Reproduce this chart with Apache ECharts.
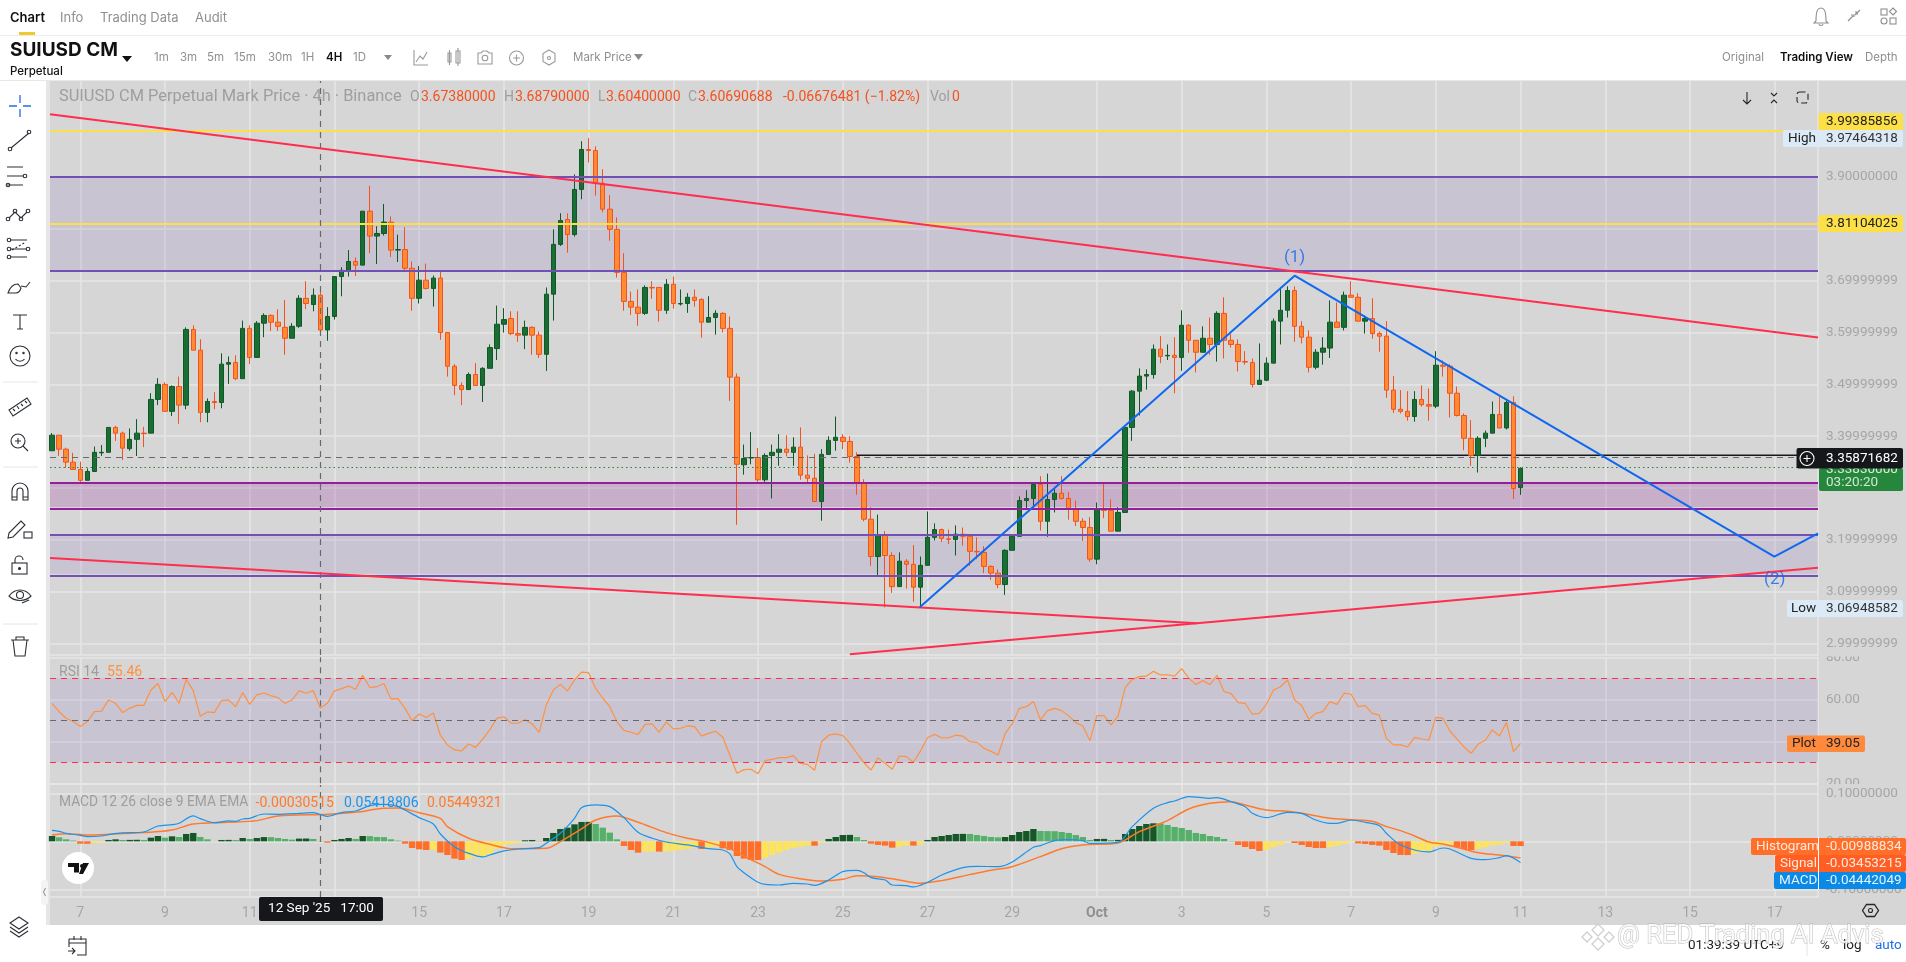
<!DOCTYPE html>
<html><head><meta charset="utf-8"><title>SUIUSD CM</title>
<script src="https://cdn.jsdelivr.net/npm/echarts@6/dist/echarts.min.js"></script>
<style>
html,body{margin:0;padding:0;background:#fff;width:1906px;height:962px;overflow:hidden}
#pane{position:absolute;left:50px;top:81px;width:1856px;height:844px;background:#d6d6d6}
#strip{position:absolute;left:46px;top:81px;width:4px;height:844px;background:#e6e6e6}
#chart{position:absolute;left:0;top:0;width:1906px;height:962px}
#icons{position:absolute;left:0;top:0;pointer-events:none}
</style></head><body>
<div id="strip"></div><div id="pane"></div>
<div id="chart"></div>
<svg id="icons" width="1906" height="962" fill="none" stroke="#2b2f36" stroke-width="1.1">
 <line x1="0" y1="35.5" x2="1906" y2="35.5" stroke="#ececec"/>
 <line x1="0" y1="80.5" x2="1906" y2="80.5" stroke="#e8e8e8"/>
 <rect x="19" y="32" width="16" height="3" fill="#f0c92e" stroke="none"/>
 <path d="M122 56h10l-5 6z" fill="#111" stroke="none"/>
 <path d="M384 55h8l-4 5z" fill="#8a8a8a" stroke="none"/>
 <path d="M634 54h9l-4.500 6z" fill="#8a8a8a" stroke="none"/>
 <g stroke="#9a9a9a">
  <path d="M414 50v15h14M416 62l4-6 3 3 4-7"/>
  <path d="M448 53h3v9h-3zM456 51h4v12h-4zM449.500 50v15M458 48v18"/>
  <path d="M478 53h3l2-2h4l2 2h3v11h-14z"/><circle cx="485" cy="58" r="2.800"/>
  <circle cx="516.500" cy="58" r="7"/><path d="M513 58h7M516.500 54.500v7"/>
  <path d="M549 50l6 3.500v8l-6 3.500-6-3.500v-8z"/><circle cx="549" cy="58" r="1.500"/>
 </g>
 <g stroke="#8f8f8f">
  <path d="M1816 21c0-11 2-13 5-13s5 2 5 13l2 2h-14zM1819 24c0 2 4 2 4 0"/>
  <path d="M1848 21l5-5M1860 10l-5 5M1851 15h3v2M1856 11v3h2"/>
  <rect x="1881" y="9" width="6" height="6"/><path d="M1893 8l3.500 3.500-3.500 3.500-3.500-3.500z"/><rect x="1890" y="18" width="6" height="6"/><circle cx="1884" cy="21" r="3"/>
 </g>
 <g stroke="#24272c">
  <path d="M1747 92v12M1743 100l4 4 4-4"/>
  <path d="M1771 93l3 3 3-3M1771 103l3-3 3 3"/>
  <rect x="1797" y="92" width="11" height="11" rx="2.500" stroke-dasharray="6 3"/>
 </g>
 <g stroke="#1f6fe5" stroke-width="1.300"><path d="M20 95v8M20 109v8M9 106h8M23 106h8"/></g>
 <g>
  <path d="M11 148l18-15"/><circle cx="10" cy="149" r="1.800"/><circle cx="29" cy="132" r="1.800"/>
  <path d="M7 167h16M7 176h16M7 185h16"/><circle cx="25" cy="176" r="1.800"/><circle cx="8" cy="185" r="1.800"/>
  <path d="M9 218l6-6 6 6 6-6"/><circle cx="8" cy="219" r="1.800"/><circle cx="15" cy="211" r="1.800"/><circle cx="21" cy="219" r="1.800"/><circle cx="28" cy="211" r="1.800"/>
  <path d="M10 240h17M10 249h17M10 257h17"/><path d="M12 250l14-8" stroke-dasharray="2 2"/><circle cx="9" cy="240" r="1.800"/><circle cx="9" cy="249" r="1.800"/><circle cx="28" cy="249" r="1.800"/><circle cx="9" cy="257" r="1.800"/>
  <path d="M8 293c2-6 6-9 10-9l3 4c-1 3-3 5-5 5zM21 286l5 1 4-5"/>
  <path d="M13 315h14M20 315v14M17 329h6"/>
  <circle cx="20" cy="356" r="10"/><path d="M15.500 359c2 3 7 3 9 0"/><circle cx="16.500" cy="353" r=".7"/><circle cx="23.500" cy="353" r=".7"/>
  <path d="M9 410l18-12 4 6-18 12zM13 409l2 2M17 406l2 3M21 404l2 2M25 401l2 2"/>
  <circle cx="18" cy="441" r="7"/><path d="M15 441h6M18 438v6M23 446l5 5"/>
  <path d="M12 500v-9a8 8 0 0 1 16 0v9h-5v-9a3 3 0 0 0-6 0v9zM12 497h5M23 497h5"/>
  <path d="M9 533l12-12 4 4-12 12-5 1z"/><rect x="24" y="532" width="8" height="6"/>
  <rect x="12" y="563" width="15" height="11"/><path d="M15 563v-3a4 4 0 0 1 8 0"/><circle cx="19.500" cy="568.500" r="1" fill="#2b2f36"/>
  <path d="M9 596c6-8 16-8 22 0-6 6-16 6-22 0z"/><circle cx="20" cy="595" r="3.500"/><path d="M22 603l7-3"/>
  <path d="M11 640h18M16 640v-3h8v3M13 640l2 16h10l2-16"/>
  <path d="M19 917l9 6-9 6-9-6zM10 927l9 6 9-6M10 931l9 6 9-6"/>
  <path d="M69 939h17v16h-9M69 939v8M69 943h17M74 936v4M81 936v4M68 951h7M72 948l3 3-3 3"/>
 </g>
 <g stroke="#e6e6e6" stroke-width="1"><path d="M3 382h35M3 467h35M3 624h35"/></g>
 <rect x="41" y="880" width="7" height="25" rx="3" fill="#f4f4f4" stroke="none"/>
 <path d="M45.500 888l-2 4 2 4" stroke="#999"/>
 <circle cx="78" cy="868" r="16" fill="#fff" stroke="none"/>
 <path d="M68 863h11v9.500h-5V867h-6zM83 863h6l-6 11h-4z" fill="#111" stroke="none"/><circle cx="82" cy="866" r="2" fill="#111" stroke="none"/>
 <g fill="#fff" stroke="#cfcfcf" stroke-width="1.300"><path d="M1598 924l6 6-6 6-6-6zM1587 932l5 5-5 5-5-5zM1609 932l5 5-5 5-5-5zM1598 938l6 6-6 6-6-6z"/></g>
 <line x1="1807" y1="935" x2="1807" y2="956" stroke="#e8e8e8"/>
 <circle cx="1807" cy="458.500" r="7" stroke="#fff"/><path d="M1803.500 458.500h7M1807 455v7" stroke="#fff"/>
 <path d="M1866.500 904.500l8 0 4 6-4 6-8 0-4-6z" stroke="#24272c" stroke-width="1.300"/><circle cx="1870.500" cy="910.500" r="2" stroke="#24272c"/>
</svg>
<script>
// ----- values -----
const firstCandle = -4; // candle index counted in 4h steps from 7 Sep 00:00
// open, close, low, high
const candles = [
[3.372,3.402,3.372,3.406],[3.402,3.375,3.362,3.402],[3.375,3.350,3.339,3.378],[3.350,3.336,3.336,3.368],
[3.336,3.315,3.312,3.351],[3.315,3.332,3.315,3.338],[3.332,3.369,3.332,3.380],[3.368,3.369,3.362,3.383],[3.369,3.417,3.369,3.417],
[3.417,3.406,3.391,3.420],[3.406,3.377,3.354,3.409],[3.376,3.394,3.372,3.415],[3.394,3.406,3.362,3.433],[3.406,3.405,3.379,3.418],
[3.406,3.471,3.406,3.483],[3.471,3.500,3.460,3.512],[3.500,3.448,3.448,3.504],[3.448,3.496,3.439,3.498],[3.496,3.460,3.424,3.515],
[3.460,3.606,3.452,3.610],[3.606,3.566,3.566,3.614],[3.566,3.446,3.427,3.587],[3.446,3.467,3.427,3.473],[3.467,3.465,3.452,3.485],
[3.465,3.539,3.454,3.560],[3.539,3.542,3.501,3.554],[3.542,3.511,3.508,3.556],[3.511,3.608,3.511,3.623],[3.608,3.552,3.539,3.614],
[3.552,3.618,3.552,3.622],[3.618,3.633,3.591,3.637],[3.633,3.620,3.603,3.635],[3.620,3.612,3.603,3.645],[3.610,3.589,3.557,3.663],
[3.589,3.612,3.589,3.618],[3.612,3.666,3.609,3.672],[3.666,3.656,3.645,3.699],[3.654,3.672,3.641,3.685],[3.672,3.605,3.602,3.687],
[3.605,3.631,3.584,3.649],[3.631,3.708,3.625,3.708],[3.708,3.720,3.670,3.726],[3.720,3.737,3.708,3.759],[3.737,3.730,3.709,3.745],
[3.730,3.834,3.730,3.834],[3.834,3.786,3.753,3.883],[3.786,3.791,3.732,3.805],[3.791,3.813,3.787,3.848],[3.813,3.759,3.746,3.824],
[3.759,3.760,3.736,3.789],[3.760,3.724,3.720,3.803],[3.724,3.666,3.642,3.737],[3.666,3.701,3.656,3.728],[3.701,3.685,3.683,3.733],
[3.685,3.705,3.650,3.710],[3.705,3.600,3.586,3.720],[3.600,3.535,3.515,3.600],[3.535,3.498,3.479,3.539],[3.498,3.490,3.460,3.504],
[3.490,3.519,3.490,3.523],[3.519,3.498,3.498,3.541],[3.498,3.531,3.466,3.533],[3.531,3.571,3.531,3.577],[3.569,3.616,3.547,3.652],
[3.616,3.625,3.600,3.647],[3.627,3.598,3.595,3.641],[3.598,3.595,3.582,3.641],[3.595,3.610,3.568,3.623],[3.610,3.595,3.557,3.612],
[3.595,3.558,3.551,3.602],[3.558,3.674,3.526,3.687],[3.674,3.770,3.623,3.799],[3.770,3.816,3.767,3.830],[3.818,3.789,3.754,3.830],
[3.789,3.876,3.785,3.905],[3.876,3.953,3.857,3.969],[3.953,3.951,3.928,3.975],[3.951,3.888,3.864,3.959],[3.888,3.838,3.832,3.915],
[3.838,3.799,3.777,3.865],[3.799,3.716,3.706,3.822],[3.716,3.660,3.642,3.753],[3.660,3.649,3.634,3.679],[3.649,3.637,3.613,3.683],
[3.637,3.687,3.634,3.691],[3.687,3.686,3.665,3.699],[3.687,3.643,3.621,3.687],[3.643,3.693,3.636,3.703],[3.693,3.656,3.646,3.708],
[3.655,3.656,3.652,3.683],[3.656,3.668,3.638,3.676],[3.668,3.662,3.650,3.683],[3.664,3.620,3.590,3.666],[3.620,3.629,3.620,3.670],
[3.629,3.637,3.596,3.643],[3.637,3.608,3.600,3.639],[3.608,3.514,3.468,3.631],[3.514,3.346,3.229,3.521],
[3.345,3.357,3.326,3.384],[3.358,3.359,3.346,3.408],[3.359,3.316,3.312,3.377],[3.316,3.363,3.312,3.367],[3.363,3.369,3.280,3.384],
[3.369,3.375,3.343,3.404],[3.375,3.369,3.361,3.402],[3.369,3.379,3.343,3.398],[3.379,3.325,3.316,3.417],[3.325,3.319,3.308,3.363],
[3.319,3.274,3.274,3.366],[3.274,3.365,3.237,3.375],[3.365,3.392,3.365,3.400],[3.392,3.398,3.372,3.438],[3.398,3.390,3.375,3.404],
[3.390,3.361,3.349,3.400],[3.361,3.309,3.287,3.369],[3.309,3.240,3.236,3.317],[3.240,3.168,3.150,3.263],[3.168,3.209,3.131,3.249],
[3.209,3.170,3.070,3.217],[3.170,3.110,3.098,3.176],[3.110,3.159,3.110,3.176],[3.159,3.153,3.106,3.163],[3.153,3.109,3.081,3.190],
[3.109,3.151,3.071,3.168],[3.151,3.205,3.151,3.255],[3.205,3.220,3.199,3.232],[3.220,3.203,3.196,3.222],[3.202,3.201,3.192,3.220],
[3.201,3.211,3.170,3.228],[3.211,3.207,3.189,3.224],[3.207,3.178,3.150,3.207],[3.178,3.177,3.163,3.205],[3.176,3.149,3.136,3.188],
[3.149,3.136,3.123,3.151],[3.136,3.114,3.107,3.143],[3.114,3.180,3.094,3.182],[3.180,3.207,3.180,3.209],[3.207,3.276,3.207,3.284],
[3.276,3.280,3.258,3.296],[3.280,3.307,3.261,3.311],[3.307,3.236,3.218,3.323],[3.236,3.278,3.206,3.328],[3.278,3.290,3.253,3.301],
[3.290,3.280,3.278,3.323],[3.280,3.259,3.239,3.292],[3.259,3.236,3.227,3.276],[3.236,3.224,3.198,3.242],[3.224,3.163,3.158,3.244],
[3.163,3.259,3.153,3.272],[3.258,3.257,3.242,3.309],[3.257,3.217,3.217,3.278],[3.217,3.253,3.217,3.263],[3.253,3.417,3.253,3.417],
[3.417,3.487,3.391,3.489],[3.487,3.516,3.440,3.531],[3.516,3.519,3.490,3.529],[3.519,3.568,3.511,3.577],[3.568,3.554,3.541,3.593],
[3.555,3.556,3.547,3.577],[3.556,3.552,3.483,3.591],[3.552,3.614,3.526,3.643],[3.614,3.585,3.561,3.616],[3.585,3.562,3.523,3.585],
[3.562,3.589,3.562,3.612],[3.589,3.577,3.557,3.629],[3.577,3.637,3.544,3.641],[3.637,3.585,3.550,3.668],[3.585,3.577,3.571,3.597],
[3.577,3.544,3.525,3.587],[3.544,3.543,3.538,3.564],[3.542,3.500,3.494,3.550],[3.500,3.508,3.500,3.579],[3.508,3.541,3.506,3.552],
[3.541,3.622,3.541,3.627],[3.622,3.643,3.577,3.687],[3.643,3.681,3.629,3.689],[3.681,3.612,3.582,3.689],[3.612,3.591,3.579,3.622],
[3.591,3.533,3.523,3.604],[3.533,3.562,3.529,3.568],[3.562,3.570,3.538,3.591],[3.570,3.620,3.551,3.662],[3.620,3.610,3.610,3.658],
[3.610,3.672,3.604,3.679],[3.672,3.668,3.668,3.699],[3.668,3.622,3.622,3.676],[3.622,3.627,3.598,3.633],[3.627,3.598,3.588,3.666],
[3.598,3.593,3.563,3.602],[3.593,3.489,3.474,3.622],[3.489,3.452,3.445,3.516],[3.452,3.448,3.444,3.489],[3.448,3.438,3.430,3.487],
[3.438,3.471,3.428,3.487],[3.471,3.461,3.457,3.498],[3.461,3.458,3.430,3.492],[3.458,3.537,3.454,3.564],[3.537,3.535,3.515,3.546],
[3.535,3.483,3.436,3.539],[3.483,3.440,3.438,3.496],[3.440,3.396,3.373,3.444],[3.396,3.363,3.343,3.431],[3.363,3.396,3.330,3.400],
[3.396,3.406,3.379,3.411],[3.406,3.442,3.406,3.467],[3.442,3.416,3.415,3.477],[3.416,3.465,3.413,3.469],[3.465,3.299,3.279,3.477],
[3.301,3.338,3.287,3.340]];

const rsiValues = [
58.1,54.1,51.0,49.4,47.0,49.4,54.1,54.4,59.7,58.1,53.7,55.7,57.1,57.1,64.4,67.5,58.9,63.3,58.1,69.5,
64.1,51.9,54.0,53.7,59.4,59.7,56.5,63.2,57.6,62.1,63.0,61.7,60.8,58.1,59.7,64.0,62.9,64.1,55.9,58.1,
64.0,65.1,66.3,64.8,71.4,65.6,66.0,67.5,60.2,60.3,55.7,49.8,53.0,51.3,53.5,42.9,38.3,35.9,35.4,38.7,
37.1,41.0,45.4,51.0,51.7,48.7,48.6,50.3,48.3,44.3,57.3,64.4,67.1,64.0,69.2,72.9,72.7,65.2,60.5,56.5,
49.4,45.2,44.3,43.3,48.1,48.3,44.3,49.2,45.9,46.2,47.3,47.0,42.5,43.8,44.8,41.9,33.5,24.8,
26.5,26.7,24.6,30.8,31.4,32.2,32.2,33.2,29.5,29.0,26.2,39.8,42.9,43.5,42.7,39.0,34.3,29.8,26.3,32.1,
29.5,26.7,33.0,32.7,30.0,35.4,41.7,43.3,41.7,41.7,42.9,42.5,39.8,39.5,36.7,35.2,33.5,43.8,48.3,55.7,
56.5,59.0,50.2,54.6,55.7,54.6,52.1,48.9,47.3,40.3,52.2,52.2,47.8,52.1,65.6,69.5,70.8,71.0,73.3,71.6,
71.7,71.0,74.6,70.2,67.0,68.9,67.0,71.4,63.7,62.7,58.4,58.1,52.9,53.3,57.6,64.4,66.0,69.2,59.7,57.0,
50.5,53.3,54.1,58.9,57.6,62.9,62.4,56.5,57.0,53.3,52.5,41.4,38.3,38.3,
37.3,41.9,41.1,40.5,51.4,51.0,44.9,41.0,37.3,34.3,38.7,40.5,45.4,42.5,49.0,35.1,39.05];

const histValues = [
.0111,.0083,.0042,.0014,-.0049,-.0052,-.0035,-.0021,.0028,.0042,.0028,.003,.0032,.0028,.0076,.0111,.0076,.0104,.009,.0153,
.0174,.009,.0042,.0002,.0028,.003,.0026,.0069,.0049,.0069,.0088,.0086,.0069,.0049,.0035,.0056,.0058,.0049,-.0007,-.0028,
.0028,.0049,.0069,.0049,.0111,.0109,.009,.0088,.0042,.0014,-.0049,-.0139,-.0167,-.0181,-.0179,-.0236,-.0285,-.0361,-.0389,-.0361,
-.0319,-.0306,-.0264,-.0153,-.0076,-.0056,-.0028,.0021,.0028,-.0007,.0069,.0174,.0257,.0285,.0354,.0403,.0405,.0361,.0285,.0181,
.0042,-.0097,-.0181,-.0236,-.0215,-.0213,-.0215,-.0208,-.0194,-.0181,-.016,-.0125,-.016,-.0125,-.0111,-.0146,-.0181,-.0306,
-.0361,-.0389,-.0391,-.034,-.0285,-.0236,-.0181,-.0139,-.0111,-.009,-.0092,-.0028,.0049,.009,.0132,.0134,.009,.0028,-.0049,-.0076,
-.009,-.0132,-.0111,-.0083,-.009,-.0069,.0028,.009,.0111,.0132,.0153,.0155,.0153,.0132,.0111,.009,.0083,.009,.0132,.0194,
.0215,.0257,.0215,.0213,.0211,.0194,.0174,.0132,.009,.0028,.0049,.0051,.0028,.003,.0153,.0257,.0319,.0361,.0375,.0373,
.034,.0299,.0278,.0236,.0174,.0153,.0111,.009,.0049,.0007,-.0076,-.0118,-.016,-.0201,-.0181,-.0118,-.0076,-.0014,-.0035,-.0076,
-.0118,-.0139,-.0141,-.0118,-.009,-.0056,-.0014,-.0042,-.0056,-.0076,-.009,-.0181,-.0243,-.0285,-.0287,-.0257,-.0222,-.0201,-.0111,-.0083,
-.0081,-.0125,-.016,-.0181,-.016,-.0125,-.0083,-.0069,-.0028,-.0097,-.0099];

// [candle index, value]
const macdLine = [[-4,.0229],[-3,.0208],[-2,.0167],[0,.0125],[1,.0097],[3,.0111],[4,.0139],[6,.0174],[9,.0194],[11,.0319],[13,.0347],[14,.0375],[16,.0528],[17,.0472],[19,.0389],[21,.0424],[22,.0417],[23,.0465],[24,.0479],[26,.0569],[28,.0563],[31,.0583],[33,.0597],[35,.0521],[37,.0597],[39,.0632],[41,.0743],[43,.0771],[45,.0722],[48,.0493],[50,.0361],[51,.0153],[53,-.0111],[55,-.025],[57,-.0326],[58,-.0285],[60,-.0201],[62,-.016],[65,-.0132],[66,-.0042],[68,.0167],[70,.0479],[71,.0701],[73,.0757],[75,.0722],[77,.0493],[79,.0188],[81,.0063],[83,-.0014],[86,-.0076],[89,-.0153],[91,-.0181],[92,-.0264],[93,-.0528],[94,-.0653],[96,-.0854],[97,-.0896],[99,-.091],[101,-.0875],[103,-.0889],[104,-.0917],[106,-.0806],[108,-.0632],[110,-.0604],[111,-.0653],[112,-.0757],[114,-.0806],[115,-.091],[117,-.0924],[118,-.0951],[120,-.0854],[122,-.0701],[125,-.0549],[127,-.0521],[130,-.0528],[132,-.0431],[135,-.0125],[136,-.009],[138,.0014],[140,.0035],[142,.0014],[143,-.0042],[147,-.0021],[149,.0306],[152,.0688],[154,.0806],[155,.084],[157,.0931],[160,.0896],[161,.091],[163,.0826],[165,.0722],[166,.0583],[168,.0493],[171,.0604],[173,.0583],[175,.0444],[177,.0375],[178,.0375],[180,.0444],[182,.0396],[184,.0326],[185,.0167],[187,-.0076],[191,-.0222],[193,-.0139],[194,-.016],[197,-.0354],[199,-.0382],[201,-.034],[202,-.0299],[204,-.0444]];
const signalLine = [[-4,.0132],[-2,.016],[1,.0132],[4,.0146],[9,.0181],[13,.0236],[16,.0361],[21,.0396],[25,.0431],[28,.0528],[35,.0563],[39,.0604],[43,.0688],[45,.0694],[48,.0597],[51,.0479],[52,.0306],[55,.0063],[58,-.0063],[61,-.0153],[66,-.0146],[68,-.0007],[71,.0257],[73,.0444],[76,.0528],[79,.0396],[83,.0181],[86,.0063],[88,.0014],[91,-.0111],[93,-.0215],[94,-.0306],[97,-.0528],[99,-.0688],[102,-.0778],[105,-.0826],[108,-.0792],[110,-.0715],[113,-.0736],[116,-.0806],[119,-.0875],[122,-.0819],[126,-.0694],[129,-.0604],[132,-.0528],[136,-.0319],[139,-.0153],[142,-.0076],[147,-.0035],[150,.0201],[154,.0431],[157,.0674],[160,.0792],[163,.0826],[165,.0757],[168,.0653],[171,.0625],[173,.0583],[177,.0479],[180,.0451],[183,.0417],[185,.0306],[187,.0222],[189,.0111],[191,-.0014],[193,-.0056],[195,-.0125],[198,-.0236],[201,-.0285],[204,-.0345]];

const xTicks = [0,12,24,36,48,60,72,84,96,108,120,132,144,156,168,180,192,204,216,228,240];
const xTickLabels = ['7','9','11','13','15','17','19','21','23','25','27','29','Oct','3','5','7','9','11','13','15','17'];
const priceTicks = [3.9,3.8,3.7,3.6,3.5,3.4,3.3,3.2,3.1,3.0];
const priceTickLabels = ['3.90000000','3.80000000','3.69999999','3.59999999','3.49999999','3.39999999','3.29999999','3.19999999','3.09999999','2.99999999'];
const rsiTicks = [20,40,60,80];
const macdTicks = [-0.1,0,0.1];
const macdTickLabels = ['-0.10000000','0.00000000','0.10000000'];

const yellowLevels = [3.99385856,3.81104025];
const purpleZones = [[3.9,3.717],[3.2115,3.135]];
const magentaZone = [3.3104,3.2635];
const crossPrice = 3.35871682, crossIndex = 34, lastPrice = 3.3383;
const blackLine = [[110,3.3633],[246.13,3.3633]];
const redLines = [
 [[-4.29,4.0209],[246.13,3.5905]],
 [[-4.29,3.1652],[158.2,3.0392]],
 [[109,2.9795],[246.13,3.1465]]];
const waveLine = [[118.9,3.0701],[172,3.7096],[239.95,3.1677],[246.13,3.2128]];
const wavePoints = [[172,3.744],[240,3.1225]];
const waveLabels = ['(1)','(2)'];

// ----- chart -----
const GRID='#e6e6e6', LABEL='#a6a6a6', PF='Roboto, sans-serif', HF='Inter, sans-serif';
const xMin=-4.29, xMax=246.13, L=50, W=1768;
const grids=[{left:L,width:W,top:81,height:574},{left:L,width:W,top:657.3,height:126},{left:L,width:W,top:785,height:112}]
  .map(g=>Object.assign(g,{containLabel:false,outerBoundsMode:'none'}));
const xAxis=[0,1,2].map(k=>({
  type:'value',gridIndex:k,min:xMin,max:xMax,position:'bottom',
  axisLine:{show:true,onZero:false,lineStyle:{color:GRID,width:1.5}},
  axisTick:{show:false,customValues:xTicks},
  splitLine:{show:true,lineStyle:{color:GRID,width:1.5}},
  axisLabel:{show:k===2,customValues:xTicks,margin:9,color:LABEL,fontFamily:PF,fontSize:14,
    formatter:v=>{const s=xTickLabels[xTicks.indexOf(v)];return s==='Oct'?'{b|Oct}':s;},
    rich:{b:{fontWeight:'bold',color:'#8f8f8f',fontSize:14,fontFamily:PF}}}
}));
function yA(k,min,max,ticks,labels){return {
  type:'value',gridIndex:k,min,max,position:'right',
  axisLine:{show:true,onZero:false,lineStyle:{color:GRID,width:1.5}},
  axisTick:{show:false,customValues:ticks},
  splitLine:{show:true,lineStyle:{color:GRID,width:1.5}},
  axisLabel:{customValues:ticks,margin:8,color:LABEL,fontFamily:PF,fontSize:13.5,
    hideOverlap:false,showMinLabel:true,showMaxLabel:true,
    formatter:v=>labels(v)}
};}
const yAxis=[
 yA(0,2.9781,4.0851,priceTicks,v=>priceTickLabels[priceTicks.findIndex(t=>Math.abs(t-v)<1e-6)]),
 yA(1,20,80,rsiTicks,v=>v.toFixed(2)),
 yA(2,-0.116,0.1173,macdTicks,v=>macdTickLabels[macdTicks.findIndex(t=>Math.abs(t-v)<1e-6)])
];
const quiet={silent:true,symbol:'none',label:{show:false},animation:false};
const hLine=(y,color,width,type)=>({yAxis:y,lineStyle:{color,width,type:type||'solid'}});
const vCross={xAxis:crossIndex,lineStyle:{color:'#666a6e',width:1.2,type:[6,5]}};
const holder=(k,z,extra)=>Object.assign({type:'line',xAxisIndex:k,yAxisIndex:k,data:[],z,silent:true,symbol:'none',animation:false},extra);
const lineSeries=(pts,color,width,z,k=0,extra={})=>Object.assign({type:'line',xAxisIndex:k,yAxisIndex:k,data:pts,showSymbol:false,symbol:'none',silent:true,z,animation:false,clip:true,lineStyle:{color,width}},extra);
const histColor=(v,p)=> v>=0 ? (v>p?'#155727':'#56b06a') : (v>p?'#fde45b':'#ff6f2a');

const series=[
 holder(0,1,{
  markArea:{silent:true,animation:false,data:[
    [{yAxis:purpleZones[0][0],itemStyle:{color:'rgba(115,80,181,.13)'}},{yAxis:purpleZones[0][1]}],
    [{yAxis:purpleZones[1][0],itemStyle:{color:'rgba(115,80,181,.13)'}},{yAxis:purpleZones[1][1]}],
    [{yAxis:magentaZone[0],itemStyle:{color:'rgba(147,32,154,.22)'}},{yAxis:magentaZone[1]}]]},
  markLine:Object.assign({},quiet,{data:[
    ...yellowLevels.map(y=>hLine(y,'#fde047',2)),
    ...purpleZones.flat().map(y=>hLine(y,'#7350b5',2)),
    ...magentaZone.map(y=>hLine(y,'#93209a',2)),
    hLine(crossPrice,'#666a6e',1.2,[6,5]),
    hLine(lastPrice,'#1f8a3f',1.2,[1.5,3]),
    vCross]})
 }),
 lineSeries(blackLine,'#16181c',1.4,2),
 {type:'candlestick',xAxisIndex:0,yAxisIndex:0,z:3,barWidth:5,silent:true,animation:false,
  data:candles.map((c,k)=>[k+firstCandle,...c]),
  itemStyle:{color:'#1b6e33',color0:'#ff8c33',borderColor:'#0e5a27',borderColor0:'#f4511e',borderWidth:1}},
 ...redLines.map(p=>lineSeries(p,'#ff2d4e',2,5)),
 lineSeries(waveLine,'#1068f0',2,6),
 {type:'scatter',xAxisIndex:0,yAxisIndex:0,z:7,data:wavePoints,symbolSize:1,silent:true,animation:false,itemStyle:{color:'transparent'},
  label:{show:true,position:'inside',formatter:p=>waveLabels[p.dataIndex],color:'#1068f0',fontSize:17,fontFamily:PF}},
 // RSI
 holder(1,1,{
  markArea:{silent:true,animation:false,data:[[{yAxis:70,itemStyle:{color:'rgba(115,80,181,.13)'}},{yAxis:30}]]},
  markLine:Object.assign({},quiet,{data:[hLine(70,'#ff2d4e',1.2,[6,5]),hLine(50,'#666a6e',1.2,[6,5]),hLine(30,'#ff2d4e',1.2,[6,5]),vCross]})
 }),
 lineSeries(rsiValues.map((v,k)=>[k+firstCandle,v]),'#ff9140',1.2,3,1),
 // MACD
 holder(2,1,{markLine:Object.assign({},quiet,{data:[vCross]})}),
 {type:'bar',xAxisIndex:2,yAxisIndex:2,z:2,barWidth:6.4,silent:true,animation:false,
  data:histValues.map((v,k)=>({value:[k+firstCandle,v],itemStyle:{color:histColor(v,k?histValues[k-1]:v-1)}}))},
 lineSeries(signalLine,'#ff7a2e',1.5,4,2,{smooth:0.3}),
 lineSeries(macdLine,'#1d93ea',1.2,5,2,{smooth:0.3})
];

const txt=(x,y,s,o={})=>({type:'text',x,y,z:o.z||100,silent:true,style:{text:s,x:0,y:0,fill:o.c||'#111',fontSize:o.s||13,fontFamily:o.f||HF,fontWeight:o.w||'normal',align:o.a||'left',verticalAlign:'middle',stroke:o.st,lineWidth:o.lw||0}});
const box=(x,y,w,h,c,r,z)=>({type:'rect',z:z||95,silent:true,shape:{x,y,width:w,height:h,r:r||0},style:{fill:c}});
const G='#8f8f8f', RD='#f4511e';
const graphic=[
 txt(10,18,'Chart',{w:600}),txt(60,18,'Info',{c:G}),txt(100,18,'Trading Data',{c:G}),txt(195,18,'Audit',{c:G}),
 txt(10,50,'SUIUSD CM',{s:19,w:700}),txt(10,72,'Perpetual',{s:11.500,w:500}),
 ...[['1m',154],['3m',180],['5m',207],['15m',234],['30m',268],['1H',301],['1D',353]].map(a=>txt(a[1],58,a[0],{c:G,s:11.500})),
 txt(326,58,'4H',{s:11.500,w:600}),
 txt(573,58,'Mark Price',{c:G,s:11.500}),
 txt(1722,58,'Original',{c:G,s:11.500}),txt(1780,58,'Trading View',{s:11.500,w:600}),txt(1865,58,'Depth',{c:G,s:11.500}),
 // legends
 txt(59,97,'SUIUSD CM Perpetual Mark Price · 4h · Binance',{c:'#9e9e9e',s:16.4,f:PF}),
 txt(410,97,'O',{c:'#9e9e9e',s:14,f:PF}),txt(421,97,'3.67380000',{c:RD,s:14,f:PF}),
 txt(504,97,'H',{c:'#9e9e9e',s:14,f:PF}),txt(515,97,'3.68790000',{c:RD,s:14,f:PF}),
 txt(598,97,'L',{c:'#9e9e9e',s:14,f:PF}),txt(606,97,'3.60400000',{c:RD,s:14,f:PF}),
 txt(688,97,'C',{c:'#9e9e9e',s:14,f:PF}),txt(698,97,'3.60690688',{c:RD,s:14,f:PF}),
 txt(783,97,'-0.06676481 (−1.82%)',{c:RD,s:14,f:PF}),txt(930,97,'Vol',{c:'#9e9e9e',s:14,f:PF}),txt(952,97,'0',{c:RD,s:14,f:PF}),
 txt(59,672,'RSI 14',{c:'#9e9e9e',s:14,f:PF}),txt(107,672,'55.46',{c:'#ff9140',s:14,f:PF}),
 txt(59,803,'MACD 12 26 close 9 EMA EMA',{c:'#9e9e9e',s:13.8,f:PF}),
 txt(255.6,803,'-0.00030515',{c:'#ff7a2e',s:14,f:PF}),txt(344,803,'0.05418806',{c:'#1d93ea',s:14,f:PF}),txt(427,803,'0.05449321',{c:'#ff7a2e',s:14,f:PF}),
 // label clipping at pane borders
 box(1820,651,86,5.500,'#d6d6d6',0,50),box(1820,784,86,3,'#d6d6d6',0,50),
 // price tags
 box(1818.500,113,84.500,17,'#fde047',2),txt(1826,121.500,'3.99385856',{s:13.500,f:PF,c:'#222'}),
 box(1783,130,120,17,'#dce9f6',2),txt(1788,138.500,'High',{s:13.500,f:PF,c:'#222'}),txt(1826,138.500,'3.97464318',{s:13.500,f:PF,c:'#333'}),
 box(1818.500,215,84.500,17,'#fde047',2),txt(1826,223.500,'3.81104025',{s:13.500,f:PF,c:'#222'}),
 box(1819,468,84,23,'#26873c',2,94),txt(1826,470,'3.33830000',{s:13.500,f:PF,c:'#d6efd9',z:94}),txt(1826,482.500,'03:20:20',{s:13.500,f:PF,c:'#cfe8d3'}),
 box(1796.500,448,106.500,20.500,'#15171b',2),txt(1826,458.500,'3.35871682',{s:13.500,f:PF,c:'#fff'}),
 box(1787,600,116,17,'#dce9f6',2),txt(1791,608.500,'Low',{s:13.500,f:PF,c:'#222'}),txt(1826,608.500,'3.06948582',{s:13.500,f:PF,c:'#333'}),
 box(1787,735.500,78,16.500,'#ff8a3c',2),txt(1792,744,'Plot',{s:13.500,f:PF,c:'#222'}),txt(1826,744,'39.05',{s:13.500,f:PF,c:'#222'}),
 box(1751,838,155,17,'#ff6f2a',2),txt(1756,846.500,'Histogram',{s:13.500,f:PF,c:'#ffe9dc'}),txt(1826,846.500,'-0.00988834',{s:13.500,f:PF,c:'#ffe9dc'}),
 box(1775,855,131,17,'#ff5f24',2),txt(1780,863.500,'Signal',{s:13.500,f:PF,c:'#ffe9dc'}),txt(1826,863.500,'-0.03453215',{s:13.500,f:PF,c:'#ffe9dc'}),
 box(1774,872,132,17,'#0a8ae6',2),txt(1779,880.500,'MACD',{s:13.500,f:PF,c:'#e2f2ff'}),txt(1826,880.500,'-0.04442049',{s:13.500,f:PF,c:'#e2f2ff'}),
 box(1818,838,1,51,'#ffffff',0,96),
 box(259,897,124,24,'#15171b',2),txt(321,909,"12 Sep '25   17:00",{s:13.500,f:PF,c:'#fff',a:'center'}),
 // footer
 txt(1688,946,'01:39:39 UTC+9',{s:13.500,f:PF,c:'#222',z:90}),txt(1820,946,'%',{s:13.500,f:PF,c:'#222',z:90}),txt(1843,946,'log',{s:13.500,f:PF,c:'#222',z:90}),txt(1875,946,'auto',{s:13.500,f:PF,c:'#1f6fe5',z:90}),
 {type:'text',x:1617,y:937,z:99,silent:true,style:{text:'@ RED Trading AI Advis',fontSize:25.500,fontFamily:PF,fill:'rgba(255,255,255,.82)',stroke:'rgba(170,170,170,.75)',lineWidth:1,verticalAlign:'middle'}}
];

const chart=echarts.init(document.getElementById('chart'),null,{renderer:'canvas',width:1906,height:962});
chart.setOption({animation:false,backgroundColor:'transparent',tooltip:{show:false},grid:grids,xAxis,yAxis,series,graphic});
</script>
</body></html>
